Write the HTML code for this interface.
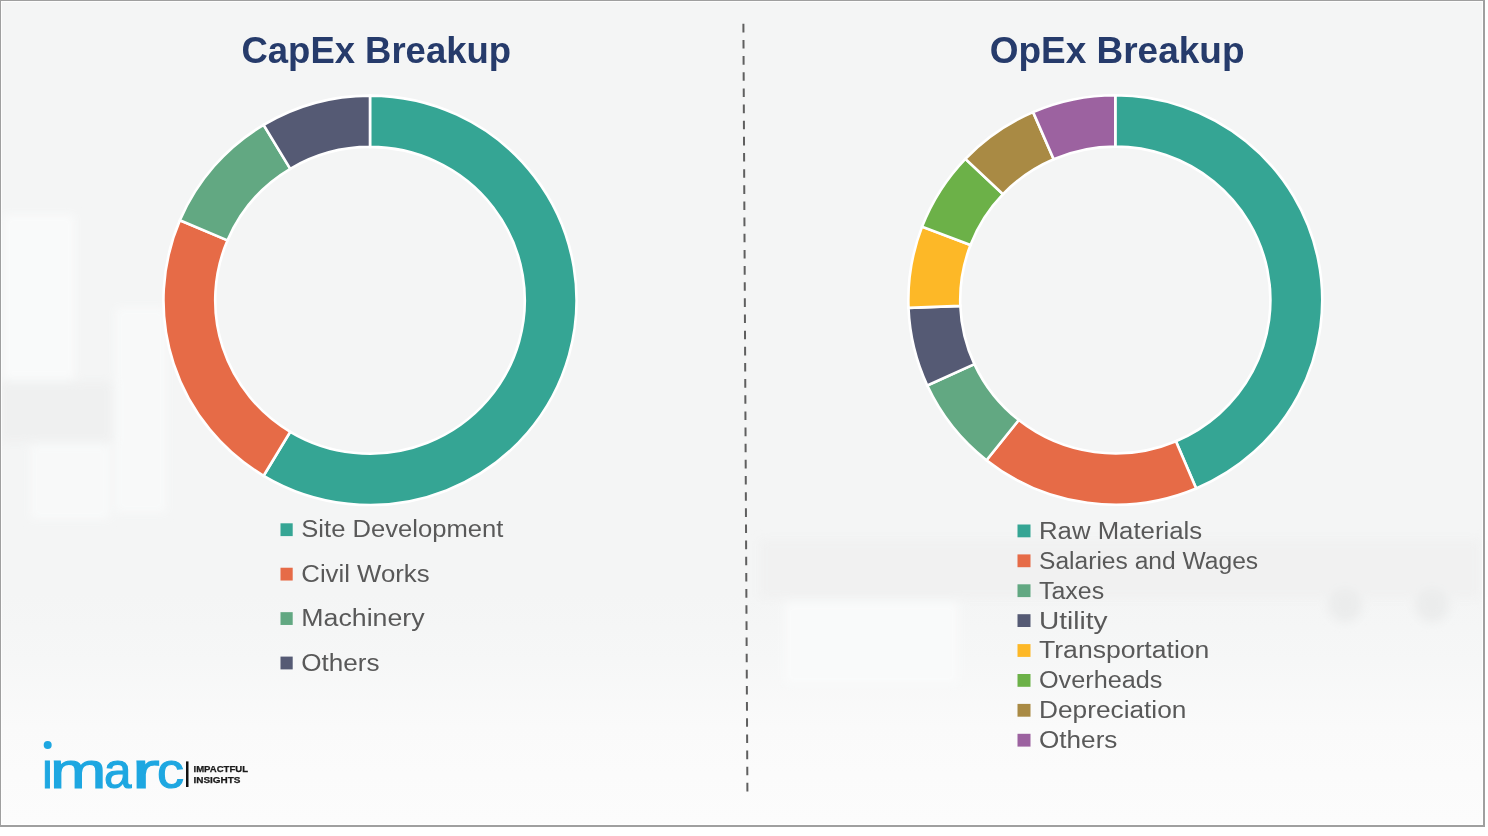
<!DOCTYPE html>
<html><head><meta charset="utf-8"><title>CapEx and OpEx Breakup</title>
<style>
html,body{margin:0;padding:0;background:#fff;}
body{width:1488px;height:836px;overflow:hidden;}
svg{display:block;}
text{font-family:'Liberation Sans', Arial, sans-serif;}
</style></head><body>
<svg width="1488" height="836" viewBox="0 0 1488 836">
<defs>
<linearGradient id="bgv" x1="0" y1="0" x2="0" y2="1">
<stop offset="0" stop-color="#f4f5f5"/>
<stop offset="0.72" stop-color="#f4f5f5"/>
<stop offset="0.80" stop-color="#f6f7f7"/>
<stop offset="0.88" stop-color="#fafafa"/>
<stop offset="1" stop-color="#fcfcfc"/>
</linearGradient>
<filter id="soft" x="-10%" y="-10%" width="120%" height="120%"><feGaussianBlur stdDeviation="5"/></filter>
</defs>
<rect x="0" y="0" width="1488" height="836" fill="#ffffff"/>
<rect x="1" y="1" width="1482" height="824" fill="url(#bgv)"/>
<g filter="url(#soft)">
<rect x="3" y="214" width="72" height="166" fill="#f9fafa"/>
<rect x="115" y="307" width="52" height="206" fill="#f8f9f9"/>
<rect x="30" y="444" width="80" height="76" fill="#f8f9f9"/>
<rect x="0" y="382" width="112" height="60" fill="#eff0f0"/>
<rect x="760" y="540" width="720" height="58" fill="#eff0f0" opacity="0.7"/>
<rect x="784" y="602" width="175" height="83" fill="#f9fafa"/>
<circle cx="1345" cy="605" r="17" fill="#ebecec"/>
<circle cx="1432" cy="605" r="17" fill="#ebecec"/>
</g>
<rect x="1.5" y="1.5" width="1481" height="823" fill="none" stroke="#ffffff" stroke-width="1" opacity="0.8"/>
<g fill="#9f9f9f">
<rect x="0" y="0" width="1485" height="1"/>
<rect x="0" y="0" width="1" height="827"/>
<rect x="1483" y="0" width="2" height="827"/>
<rect x="0" y="825" width="1485" height="2"/>
</g>
<g font-weight="bold" font-size="36.5" fill="#263b6b">
<text x="241.5" y="62.5" textLength="269.5" lengthAdjust="spacingAndGlyphs">CapEx Breakup</text>
<text x="989.7" y="62.5" textLength="254.8" lengthAdjust="spacingAndGlyphs">OpEx Breakup</text>
</g>
<line x1="743.4" y1="23.8" x2="747.4" y2="792" stroke="#5f5f5f" stroke-width="2" stroke-dasharray="8.6 7.55"/>
<g stroke="#ffffff" stroke-width="2.6" stroke-linejoin="miter">
<path d="M370 95.6A206.54 204.7 0 1 1 263.62 475.76L290.28 431.79A154.78 153.4 0 1 0 370 146.9Z" fill="#35a594"/><path d="M263.62 475.76A206.54 204.7 0 0 1 179.88 220.32L227.52 240.36A154.78 153.4 0 0 0 290.28 431.79Z" fill="#e66b47"/><path d="M179.88 220.32A206.54 204.7 0 0 1 263.62 124.84L290.28 168.81A154.78 153.4 0 0 0 227.52 240.36Z" fill="#62a882"/><path d="M263.62 124.84A206.54 204.7 0 0 1 370 95.6L370 146.9A154.78 153.4 0 0 0 290.28 168.81Z" fill="#555a74"/>
<path d="M1115.3 95.3A206.95 204.7 0 0 1 1196.16 488.43L1175.9 441.21A155.09 153.4 0 0 0 1115.3 146.6Z" fill="#35a594"/><path d="M1196.16 488.43A206.95 204.7 0 0 1 986.47 460.2L1018.76 420.05A155.09 153.4 0 0 0 1175.9 441.21Z" fill="#e66b47"/><path d="M986.47 460.2A206.95 204.7 0 0 1 927.28 385.54L974.4 364.1A155.09 153.4 0 0 0 1018.76 420.05Z" fill="#62a882"/><path d="M927.28 385.54A206.95 204.7 0 0 1 908.5 307.86L960.33 305.89A155.09 153.4 0 0 0 974.4 364.1Z" fill="#555a74"/><path d="M908.5 307.86A206.95 204.7 0 0 1 922.09 226.64L970.51 245.03A155.09 153.4 0 0 0 960.33 305.89Z" fill="#fdb827"/><path d="M922.09 226.64A206.95 204.7 0 0 1 965.43 158.83L1002.99 194.21A155.09 153.4 0 0 0 970.51 245.03Z" fill="#6cb148"/><path d="M965.43 158.83A206.95 204.7 0 0 1 1033.11 112.14L1053.71 159.22A155.09 153.4 0 0 0 1002.99 194.21Z" fill="#a98a44"/><path d="M1033.11 112.14A206.95 204.7 0 0 1 1115.3 95.3L1115.3 146.6A155.09 153.4 0 0 0 1053.71 159.22Z" fill="#9c62a0"/>
</g>
<g font-size="23.3" fill="#595959">
<rect x="280.5" y="523.3" width="12.2" height="12.8" fill="#35a594"/><text x="301.3" y="537.3" textLength="202" lengthAdjust="spacingAndGlyphs">Site Development</text><rect x="280.5" y="567.73" width="12.2" height="12.8" fill="#e66b47"/><text x="301.3" y="581.73" textLength="128.3" lengthAdjust="spacingAndGlyphs">Civil Works</text><rect x="280.5" y="612.16" width="12.2" height="12.8" fill="#62a882"/><text x="301.3" y="626.16" textLength="123.3" lengthAdjust="spacingAndGlyphs">Machinery</text><rect x="280.5" y="656.59" width="12.2" height="12.8" fill="#555a74"/><text x="301.3" y="670.59" textLength="78.3" lengthAdjust="spacingAndGlyphs">Others</text>
<rect x="1017.5" y="524.5" width="13" height="12.8" fill="#35a594"/><text x="1039" y="538.8" textLength="163.1" lengthAdjust="spacingAndGlyphs">Raw Materials</text><rect x="1017.5" y="554.4" width="13" height="12.8" fill="#e66b47"/><text x="1039" y="568.7" textLength="219.1" lengthAdjust="spacingAndGlyphs">Salaries and Wages</text><rect x="1017.5" y="584.3" width="13" height="12.8" fill="#62a882"/><text x="1039" y="598.6" textLength="65.1" lengthAdjust="spacingAndGlyphs">Taxes</text><rect x="1017.5" y="614.2" width="13" height="12.8" fill="#555a74"/><text x="1039" y="628.5" textLength="68.5" lengthAdjust="spacingAndGlyphs">Utility</text><rect x="1017.5" y="644.1" width="13" height="12.8" fill="#fdb827"/><text x="1039" y="658.4" textLength="170.4" lengthAdjust="spacingAndGlyphs">Transportation</text><rect x="1017.5" y="674" width="13" height="12.8" fill="#6cb148"/><text x="1039" y="688.3" textLength="123.4" lengthAdjust="spacingAndGlyphs">Overheads</text><rect x="1017.5" y="703.9" width="13" height="12.8" fill="#a98a44"/><text x="1039" y="718.2" textLength="147.4" lengthAdjust="spacingAndGlyphs">Depreciation</text><rect x="1017.5" y="733.8" width="13" height="12.8" fill="#9c62a0"/><text x="1039" y="748.1" textLength="78.4" lengthAdjust="spacingAndGlyphs">Others</text>
</g>
<defs><clipPath id="lc"><rect x="30" y="757" width="160" height="40"/></clipPath></defs>
<g fill="#1ea7e1">
<text y="788" font-size="50" stroke="#1ea7e1" stroke-width="1.1" clip-path="url(#lc)"><tspan x="42.2" textLength="10.3" lengthAdjust="spacingAndGlyphs">i</tspan><tspan x="49.9" textLength="56.4" lengthAdjust="spacingAndGlyphs">m</tspan><tspan x="104" textLength="27.5" lengthAdjust="spacingAndGlyphs">a</tspan><tspan x="131.8" textLength="27.9" lengthAdjust="spacingAndGlyphs">r</tspan><tspan x="157" textLength="27" lengthAdjust="spacingAndGlyphs">c</tspan></text>
<circle cx="47.7" cy="745" r="4"/>
</g>
<rect x="186" y="761.4" width="2.5" height="25.6" fill="#111"/>
<g font-weight="bold" font-size="8.4" fill="#1a1a1a" stroke="#1a1a1a" stroke-width="0.25">
<text x="193.5" y="771.5" textLength="54.5" lengthAdjust="spacingAndGlyphs">IMPACTFUL</text>
<text x="193.5" y="782.5" textLength="47" lengthAdjust="spacingAndGlyphs">INSIGHTS</text>
</g>
</svg>
</body></html>
